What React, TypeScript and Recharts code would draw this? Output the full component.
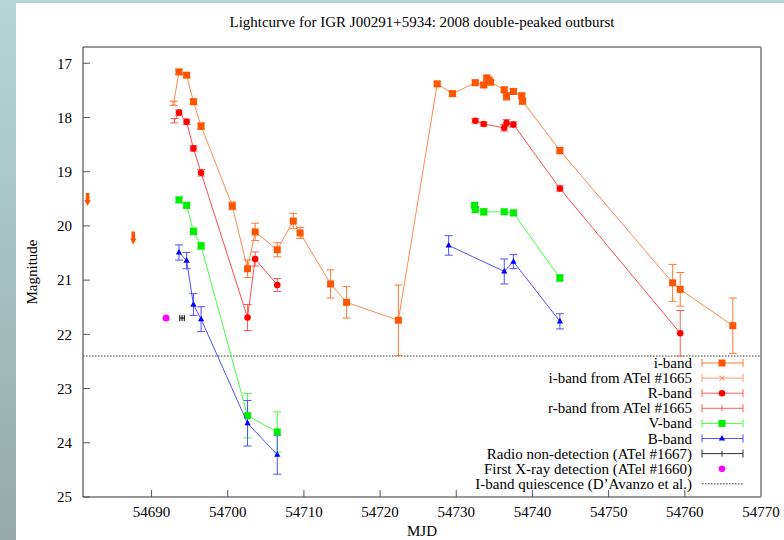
import { ScatterChart, Scatter, XAxis, YAxis, ErrorBar, ReferenceLine } from "recharts";

type Pt = { mjd: number; mag: number; err: number; atel?: boolean };

// i-band (orange squares), first entry of the line is the ATel #1665 point
const iBandAtel: Pt[] = [{ mjd: 54692.9, mag: 17.74, err: 0.04 }];
const iBand: Pt[] = [
  { mjd: 54693.6, mag: 17.16, err: 0.05 },
  { mjd: 54694.6, mag: 17.22, err: 0.04 },
  { mjd: 54695.5, mag: 17.71, err: 0.05 },
  { mjd: 54696.5, mag: 18.16, err: 0.06 },
  { mjd: 54700.6, mag: 19.63, err: 0.07 },
  { mjd: 54702.6, mag: 20.79, err: 0.16 },
  { mjd: 54703.6, mag: 20.11, err: 0.16 },
  { mjd: 54706.5, mag: 20.44, err: 0.13 },
  { mjd: 54708.6, mag: 19.91, err: 0.14 },
  { mjd: 54709.5, mag: 20.13, err: 0.1 },
  { mjd: 54713.5, mag: 21.07, err: 0.26 },
  { mjd: 54715.6, mag: 21.41, err: 0.29 },
  { mjd: 54722.4, mag: 21.74, err: 0.65 },
  { mjd: 54727.5, mag: 17.38, err: 0.04 },
  { mjd: 54729.5, mag: 17.56, err: 0.05 },
  { mjd: 54732.5, mag: 17.36, err: 0.05 },
  { mjd: 54733.6, mag: 17.4, err: 0.05 },
  { mjd: 54734.0, mag: 17.27, err: 0.04 },
  { mjd: 54734.3, mag: 17.31, err: 0.04 },
  { mjd: 54734.5, mag: 17.35, err: 0.04 },
  { mjd: 54736.3, mag: 17.49, err: 0.05 },
  { mjd: 54736.6, mag: 17.61, err: 0.07 },
  { mjd: 54737.5, mag: 17.52, err: 0.05 },
  { mjd: 54738.6, mag: 17.6, err: 0.05 },
  { mjd: 54738.7, mag: 17.7, err: 0.05 },
  { mjd: 54743.6, mag: 18.61, err: 0.06 },
  { mjd: 54758.4, mag: 21.05, err: 0.34 },
  { mjd: 54759.4, mag: 21.17, err: 0.31 },
  { mjd: 54766.3, mag: 21.84, err: 0.51 },
];
// early i-band upper limits (arrows)
const iBandLimits = [
  { mjd: 54681.6, mag: 19.52 },
  { mjd: 54687.6, mag: 20.23 },
];

const rBandAtel: Pt[] = [{ mjd: 54693.0, mag: 18.06, err: 0.04 }];
const rBandEarly: Pt[] = [
  { mjd: 54693.6, mag: 17.91, err: 0.05 },
  { mjd: 54694.6, mag: 18.08, err: 0.05 },
  { mjd: 54695.5, mag: 18.57, err: 0.05 },
  { mjd: 54696.5, mag: 19.02, err: 0.06 },
  { mjd: 54702.6, mag: 21.69, err: 0.24 },
  { mjd: 54703.6, mag: 20.61, err: 0.13 },
  { mjd: 54706.5, mag: 21.09, err: 0.12 },
];
const rBandLate: Pt[] = [
  { mjd: 54732.5, mag: 18.06, err: 0.04 },
  { mjd: 54733.6, mag: 18.12, err: 0.04 },
  { mjd: 54736.3, mag: 18.19, err: 0.06 },
  { mjd: 54736.6, mag: 18.1, err: 0.06 },
  { mjd: 54737.5, mag: 18.13, err: 0.05 },
  { mjd: 54743.6, mag: 19.31, err: 0.05 },
  { mjd: 54759.4, mag: 21.98, err: 0.42 },
];

const vBandEarly: Pt[] = [
  { mjd: 54693.6, mag: 19.52, err: 0.05 },
  { mjd: 54694.6, mag: 19.62, err: 0.05 },
  { mjd: 54695.5, mag: 20.1, err: 0.06 },
  { mjd: 54696.5, mag: 20.37, err: 0.06 },
  { mjd: 54702.6, mag: 23.5, err: 0.41 },
  { mjd: 54706.5, mag: 23.8, err: 0.37 },
];
const vBandLate: Pt[] = [
  { mjd: 54732.4, mag: 19.62, err: 0.05 },
  { mjd: 54732.5, mag: 19.7, err: 0.05 },
  { mjd: 54733.6, mag: 19.74, err: 0.06 },
  { mjd: 54736.3, mag: 19.74, err: 0.05 },
  { mjd: 54737.5, mag: 19.76, err: 0.05 },
  { mjd: 54743.6, mag: 20.96, err: 0.06 },
];

const bBandEarly: Pt[] = [
  { mjd: 54693.6, mag: 20.49, err: 0.14 },
  { mjd: 54694.6, mag: 20.64, err: 0.15 },
  { mjd: 54695.5, mag: 21.45, err: 0.2 },
  { mjd: 54696.5, mag: 21.72, err: 0.23 },
  { mjd: 54702.6, mag: 23.64, err: 0.42 },
  { mjd: 54706.5, mag: 24.22, err: 0.36 },
];
const bBandLate: Pt[] = [
  { mjd: 54729.0, mag: 20.36, err: 0.18 },
  { mjd: 54736.3, mag: 20.84, err: 0.23 },
  { mjd: 54737.5, mag: 20.66, err: 0.13 },
  { mjd: 54743.6, mag: 21.76, err: 0.14 },
];

const radioLimit = [{ mjd: 54694.0, mag: 21.7, xerr: 0.3 }];
const xrayFirst = [{ mjd: 54691.9, mag: 21.7 }];
const quiescence = 22.4;

const xTicks = [54690, 54700, 54710, 54720, 54730, 54740, 54750, 54760, 54770];
const yTicks = [17, 18, 19, 20, 21, 22, 23, 24, 25];

const legendLabels = [
  "i-band",
  "i-band from ATel #1665",
  "R-band",
  "r-band from ATel #1665",
  "V-band",
  "B-band",
  "Radio non-detection (ATel #1667)",
  "First X-ray detection (ATel #1660)",
  "I-band quiescence (D\u2019Avanzo et al.)",
];

const SERIF = '"Liberation Serif", "Times New Roman", serif';

const COL = {
  i: "#ff5500",
  iLine: "#ff8a4c",
  iErr: "#ff7a36",
  iAtel: "#ff9c6c",
  r: "#ff0000",
  rLine: "#ff4a4a",
  rErr: "#ff5c5c",
  v: "#00ee00",
  vLine: "#44ff44",
  b: "#0000ff",
  bLine: "#5050ff",
  radio: "#000000",
  xray: "#ff00ff",
};

const square = (fill: string, s: number) => (p: any) =>
  <rect x={p.cx - s / 2} y={p.cy - s / 2} width={s} height={s} fill={fill} />;

const dot = (fill: string, r: number) => (p: any) => <circle cx={p.cx} cy={p.cy} r={r} fill={fill} />;

const tri = (fill: string, s: number) => (p: any) =>
  <path d={`M${p.cx},${p.cy - s} L${p.cx + s * 0.9},${p.cy + s * 0.6} L${p.cx - s * 0.9},${p.cy + s * 0.6}Z`} fill={fill} />;

const cross = (stroke: string, s: number, cx: number, cy: number) => (
  <path d={`M${cx - s},${cy - s}L${cx + s},${cy + s}M${cx - s},${cy + s}L${cx + s},${cy - s}`} stroke={stroke} strokeWidth={1.2} />
);

function iShape(p: any) {
  if (p.payload && p.payload.atel) return cross(COL.iAtel, 2.5, p.cx, p.cy);
  return square(COL.i, 7)(p);
}

function rShape(p: any) {
  if (p.payload && p.payload.atel)
    return <line x1={p.cx} y1={p.cy - 2.5} x2={p.cx} y2={p.cy + 2.5} stroke={COL.rErr} />;
  return dot(COL.r, 3.3)(p);
}

function limitArrow(p: any) {
  const { cx, cy } = p;
  return (
    <path
      d={`M${cx - 1.8},${cy - 7}L${cx + 1.8},${cy - 7}L${cx + 1.8},${cy}L${cx + 3.2},${cy}L${cx},${cy + 6}L${cx - 3.2},${cy}L${cx - 1.8},${cy}Z`}
      fill={COL.i}
    />
  );
}

function radioShape(p: any) {
  return <line x1={p.cx} y1={p.cy - 3} x2={p.cx} y2={p.cy + 3} stroke={COL.radio} />;
}

const iLineData = [...iBandAtel.map((p) => ({ ...p, atel: true })), ...iBand];
const rEarlyData = [...rBandAtel.map((p) => ({ ...p, atel: true })), ...rBandEarly];

function KeySample({ k, y }: { k: number; y: number }) {
  const x1 = 702;
  const x2 = 743;
  const xm = 722;
  const bar = (stroke: string) => (
    <g stroke={stroke} strokeWidth={1}>
      <line x1={x1} y1={y} x2={x2} y2={y} />
      <line x1={x1} y1={y - 4} x2={x1} y2={y + 4} />
      <line x1={x2} y1={y - 4} x2={x2} y2={y + 4} />
    </g>
  );
  const pos = { cx: xm, cy: y };
  switch (k) {
    case 0:
      return <g>{bar(COL.iErr)}{square(COL.i, 7)(pos)}</g>;
    case 1:
      return <g>{bar(COL.iAtel)}{cross(COL.iAtel, 2.5, xm, y)}</g>;
    case 2:
      return <g>{bar(COL.rErr)}{dot(COL.r, 3.3)(pos)}</g>;
    case 3:
      return <g>{bar(COL.rErr)}<line x1={xm} y1={y - 3} x2={xm} y2={y + 3} stroke={COL.rErr} /></g>;
    case 4:
      return <g>{bar(COL.vLine)}{square(COL.v, 7)(pos)}</g>;
    case 5:
      return <g>{bar(COL.bLine)}{tri(COL.b, 3.5)(pos)}</g>;
    case 6:
      return <g>{bar("#333")}<line x1={xm} y1={y - 3} x2={xm} y2={y + 3} stroke="#333" /></g>;
    case 7:
      return dot(COL.xray, 3.3)(pos);
    default:
      return <line x1={x1} y1={y} x2={x2} y2={y} stroke="#333" strokeDasharray="1.5 1.5" />;
  }
}

function Key() {
  return (
    <g fontFamily={SERIF} fontSize={15} fill="#000">
      {legendLabels.map((label, k) => {
        const y = 363 + k * 15.1;
        return (
          <g key={label}>
            <text x={692} y={y} textAnchor="end" dominantBaseline="central" fontFamily={SERIF}>
              {label}
            </text>
            <KeySample k={k} y={y} />
          </g>
        );
      })}
    </g>
  );
}

const tickFont = { fontFamily: SERIF, fontSize: 15, fill: "#000" };

export default function App() {
  return (
    <div
      style={{
        position: "relative",
        width: 784,
        height: 540,
        background: "#fff",
        overflow: "hidden",
        fontFamily: SERIF,
      }}
    >
      <style>{"body{margin:0} .recharts-text{font-family:\"Liberation Serif\", \"Times New Roman\", serif}"}</style>
      <div
        style={{
          position: "absolute",
          left: 0,
          top: 0,
          width: 16,
          height: 540,
          background: "linear-gradient(#b6d6d6, #97a9aa)",
        }}
      />
      <div style={{ position: "absolute", left: 0, top: 0, width: 784, height: 3, background: "#b6d6d6" }} />
      <div style={{ position: "absolute", left: 0, top: 0 }}>
        <ScatterChart
          width={784}
          height={540}
          margin={{ top: 46, right: 22, bottom: 0, left: 0 }}
          style={{ fontFamily: SERIF }}
        >
          <text x={422} y={27} textAnchor="middle" fontFamily={SERIF} fontSize={15} fill="#000">
            Lightcurve for IGR J00291+5934: 2008 double-peaked outburst
          </text>
          <XAxis
            dataKey="mjd"
            type="number"
            domain={[54681, 54770]}
            ticks={xTicks}
            allowDataOverflow
            height={43}
            tick={tickFont}
            tickSize={-7}
            tickMargin={16}
            axisLine={{ stroke: "#333" }}
            tickLine={{ stroke: "#555" }}
            label={{
              content: ({ viewBox }: any) => (
                <text
                  x={viewBox.x + viewBox.width / 2}
                  y={531}
                  textAnchor="middle"
                  dominantBaseline="central"
                  fontFamily={SERIF}
                  fontSize={15}
                >
                  MJD
                </text>
              ),
            }}
          />
          <XAxis
            xAxisId="top"
            orientation="top"
            dataKey="mjd"
            type="number"
            domain={[54681, 54770]}
            ticks={xTicks}
            allowDataOverflow
            height={1}
            tick={false}
            tickSize={-7}
            axisLine={{ stroke: "#999", strokeWidth: 2 }}
            tickLine={{ stroke: "#555" }}
          />
          <YAxis
            dataKey="mag"
            type="number"
            reversed
            domain={[16.7, 25]}
            ticks={yTicks}
            allowDataOverflow
            width={83}
            tick={tickFont}
            tickSize={-7}
            tickMargin={18}
            axisLine={{ stroke: "#333" }}
            tickLine={{ stroke: "#555" }}
            label={{
              content: ({ viewBox }: any) => {
                const cy = viewBox.y + viewBox.height / 2;
                return (
                  <text
                    x={32}
                    y={cy}
                    transform={`rotate(-90 32 ${cy})`}
                    textAnchor="middle"
                    dominantBaseline="central"
                    fontFamily={SERIF}
                    fontSize={15}
                  >
                    Magnitude
                  </text>
                );
              },
            }}
          />
          <YAxis
            yAxisId="right"
            orientation="right"
            dataKey="mag"
            type="number"
            reversed
            domain={[16.7, 25]}
            ticks={yTicks}
            allowDataOverflow
            width={1}
            tick={false}
            tickSize={-7}
            axisLine={{ stroke: "#999", strokeWidth: 2 }}
            tickLine={{ stroke: "#555" }}
          />

          <ReferenceLine y={quiescence} stroke="#333" strokeDasharray="1.5 1.5" />

          <Scatter data={iBandLimits} shape={limitArrow} isAnimationActive={false} />
          <Scatter
            data={iLineData}
            line={{ stroke: COL.iLine, strokeWidth: 1 }}
            lineType="joint"
            shape={iShape}
            isAnimationActive={false}
          >
            <ErrorBar dataKey="err" direction="y" width={4} stroke={COL.iErr} strokeWidth={1} />
          </Scatter>

          <Scatter
            data={rEarlyData}
            line={{ stroke: COL.rLine, strokeWidth: 1 }}
            lineType="joint"
            shape={rShape}
            isAnimationActive={false}
          >
            <ErrorBar dataKey="err" direction="y" width={4} stroke={COL.rErr} strokeWidth={1} />
          </Scatter>
          <Scatter
            data={rBandLate}
            line={{ stroke: COL.rLine, strokeWidth: 1 }}
            lineType="joint"
            shape={rShape}
            isAnimationActive={false}
          >
            <ErrorBar dataKey="err" direction="y" width={4} stroke={COL.rErr} strokeWidth={1} />
          </Scatter>

          <Scatter
            data={vBandEarly}
            line={{ stroke: COL.vLine, strokeWidth: 1 }}
            lineType="joint"
            shape={square(COL.v, 7)}
            isAnimationActive={false}
          >
            <ErrorBar dataKey="err" direction="y" width={4} stroke={COL.vLine} strokeWidth={1} />
          </Scatter>
          <Scatter
            data={vBandLate}
            line={{ stroke: COL.vLine, strokeWidth: 1 }}
            lineType="joint"
            shape={square(COL.v, 7)}
            isAnimationActive={false}
          >
            <ErrorBar dataKey="err" direction="y" width={4} stroke={COL.vLine} strokeWidth={1} />
          </Scatter>

          <Scatter
            data={bBandEarly}
            line={{ stroke: COL.bLine, strokeWidth: 1 }}
            lineType="joint"
            shape={tri(COL.b, 3.5)}
            isAnimationActive={false}
          >
            <ErrorBar dataKey="err" direction="y" width={4} stroke={COL.bLine} strokeWidth={1} />
          </Scatter>
          <Scatter
            data={bBandLate}
            line={{ stroke: COL.bLine, strokeWidth: 1 }}
            lineType="joint"
            shape={tri(COL.b, 3.5)}
            isAnimationActive={false}
          >
            <ErrorBar dataKey="err" direction="y" width={4} stroke={COL.bLine} strokeWidth={1} />
          </Scatter>

          <Scatter data={radioLimit} shape={radioShape} isAnimationActive={false}>
            <ErrorBar dataKey="xerr" direction="x" width={3} stroke={COL.radio} strokeWidth={1} />
          </Scatter>
          <Scatter data={xrayFirst} shape={dot(COL.xray, 3.5)} isAnimationActive={false} />

          <Key />
        </ScatterChart>
      </div>
    </div>
  );
}
